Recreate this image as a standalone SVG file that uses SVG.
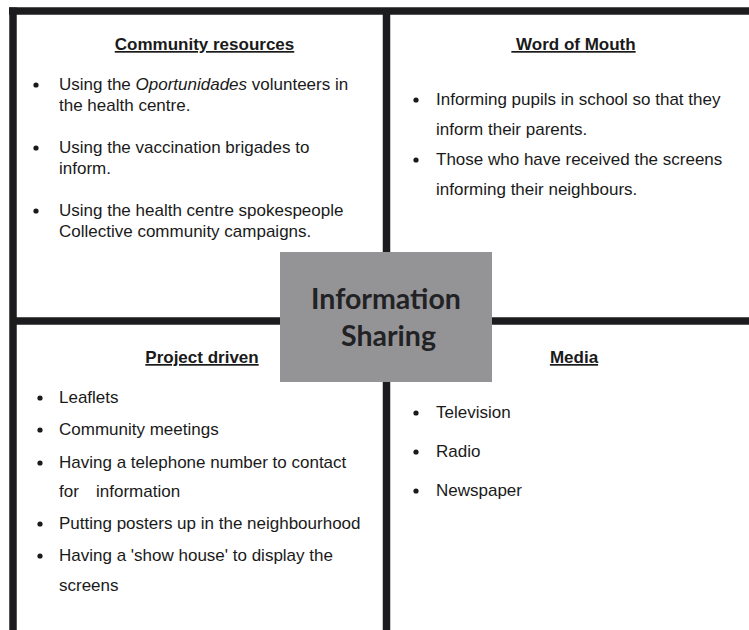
<svg xmlns="http://www.w3.org/2000/svg" width="749" height="630" viewBox="0 0 749 630">
<style>
.frame{stroke:#1c1c1e;stroke-width:7.5;fill:none}
.h{font-family:"Liberation Sans",Arial,sans-serif;font-size:17px;font-weight:bold;fill:#1a1a1a;text-anchor:middle;text-decoration:underline}
.t{font-family:"Liberation Sans",Arial,sans-serif;font-size:17px;fill:#1a1a1a}
.b{fill:#1a1a1a}
.c{font-family:Lato,"Noto Sans",sans-serif;font-size:28.5px;font-weight:bold;fill:#222224;text-anchor:middle}
</style>
<rect width="749" height="630" fill="#ffffff"/>
<g id="frame">
<line class="frame" x1="9" y1="11" x2="749" y2="11"/>
<line class="frame" x1="13" y1="7.5" x2="13" y2="630"/>
<line class="frame" x1="386.5" y1="11" x2="386.5" y2="630"/>
<line class="frame" x1="13" y1="321" x2="749" y2="321"/>
</g>
<g id="community-resources">
<text class="h" x="204.5" y="50">Community resources</text>
<circle class="b" cx="36" cy="85" r="2.6"/>
<text class="t" x="59" y="90">Using the <tspan font-style="italic">Oportunidades</tspan> volunteers in</text>
<text class="t" x="59" y="111">the health centre.</text>
<circle class="b" cx="36" cy="148" r="2.6"/>
<text class="t" x="59" y="153">Using the vaccination brigades to</text>
<text class="t" x="59" y="174">inform.</text>
<circle class="b" cx="36" cy="211" r="2.6"/>
<text class="t" x="59" y="216">Using the health centre spokespeople</text>
<text class="t" x="59" y="237">Collective community campaigns.</text>
</g>
<g id="word-of-mouth">
<text class="h" x="573.5" y="50">&#160;Word of Mouth</text>
<circle class="b" cx="416" cy="100" r="2.6"/>
<text class="t" x="436" y="105">Informing pupils in school so that they</text>
<text class="t" x="436" y="135">inform their parents.</text>
<circle class="b" cx="416" cy="160" r="2.6"/>
<text class="t" x="436" y="165">Those who have received the screens</text>
<text class="t" x="436" y="195">informing their neighbours.</text>
</g>
<g id="project-driven">
<text class="h" x="202" y="363">Project driven</text>
<circle class="b" cx="40" cy="398" r="2.6"/>
<text class="t" x="59" y="403">Leaflets</text>
<circle class="b" cx="40" cy="430" r="2.6"/>
<text class="t" x="59" y="435">Community meetings</text>
<circle class="b" cx="40" cy="463" r="2.6"/>
<text class="t" x="59" y="468">Having a telephone number to contact</text>
<text class="t" x="59" y="497">for</text>
<text class="t" x="96" y="497">information</text>
<circle class="b" cx="40" cy="524" r="2.6"/>
<text class="t" x="59" y="529">Putting posters up in the neighbourhood</text>
<circle class="b" cx="40" cy="556" r="2.6"/>
<text class="t" x="59" y="561">Having a 'show house' to display the</text>
<text class="t" x="59" y="591">screens</text>
</g>
<g id="media">
<text class="h" x="574" y="363">Media</text>
<circle class="b" cx="416" cy="413" r="2.6"/>
<text class="t" x="436" y="418">Television</text>
<circle class="b" cx="416" cy="452" r="2.6"/>
<text class="t" x="436" y="457">Radio</text>
<circle class="b" cx="416" cy="491" r="2.6"/>
<text class="t" x="436" y="496">Newspaper</text>
</g>
<g id="information-sharing">
<rect x="280" y="252" width="212" height="130" fill="#949497"/>
<text class="c" x="386" y="309">Information</text>
<text class="c" x="388.5" y="346">Sharing</text>
</g>
</svg>
